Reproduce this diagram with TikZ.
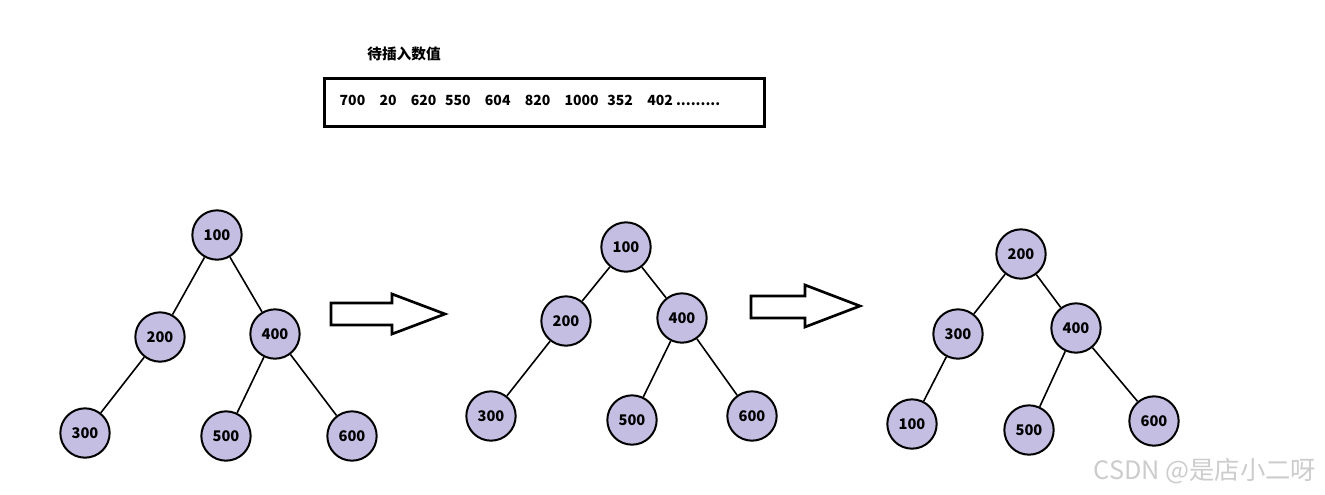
\documentclass[tikz,border=0pt]{standalone}
\usepackage{fontspec}
\setmainfont{Noto Sans CJK SC}
\usepackage{tikz}

\begin{document}
\begin{tikzpicture}
 [x=0.75pt,y=-0.75pt,
  tree node/.style={circle,fill=lavender,draw,line width=1.5pt,minimum size=37pt,inner sep=0pt,font=\fontsize{11pt}{13pt}\selectfont\bfseries},
  link/.style={line width=1.2pt},
  block arrow/.style={draw,line width=2pt,fill=white}]
 \definecolor{lavender}{RGB}{197,190,227}
 \useasboundingbox (0,0) rectangle (1325,494);

 % title and values
 \node[font=\fontsize{11pt}{13pt}\selectfont\bfseries] (title) at (404,54) {待插入数值};
 \node[draw,line width=2.2pt,minimum width=330pt,minimum height=36pt,anchor=north west] (vals) at (323,77) {};
 \node[anchor=west,font=\fontsize{10.5pt}{12pt}\selectfont\bfseries] (valtext) at (335,100)
  {700\hspace{10.7pt}20\hspace{10.7pt}620\hspace{6.5pt}550\hspace{10.7pt}604\hspace{10.7pt}820\hspace{10.7pt}1000\hspace{6.5pt}352\hspace{10.7pt}402 .........};

 % first tree
 \node[tree node] (a1) at (217,235) {100};
 \node[tree node] (a2) at (160,337) {200};
 \node[tree node] (a4) at (275,334) {400};
 \node[tree node] (a3) at (85,433) {300};
 \node[tree node] (a5) at (226,436) {500};
 \node[tree node] (a6) at (352,436) {600};

 \path
  (a1) edge [link] (a2)
  (a1) edge [link] (a4)
  (a2) edge [link] (a3)
  (a4) edge [link] (a5)
  (a4) edge [link] (a6);

 % second tree
 \node[tree node] (b1) at (626,247) {100};
 \node[tree node] (b2) at (566,321) {200};
 \node[tree node] (b4) at (682,318) {400};
 \node[tree node] (b3) at (491,416) {300};
 \node[tree node] (b5) at (632,420) {500};
 \node[tree node] (b6) at (752,416) {600};

 \path
  (b1) edge [link] (b2)
  (b1) edge [link] (b4)
  (b2) edge [link] (b3)
  (b4) edge [link] (b5)
  (b4) edge [link] (b6);

 % third tree
 \node[tree node] (c2) at (1021,254) {200};
 \node[tree node] (c3) at (958,334) {300};
 \node[tree node] (c4) at (1076,328) {400};
 \node[tree node] (c1) at (912,424) {100};
 \node[tree node] (c5) at (1029,430) {500};
 \node[tree node] (c6) at (1154,421) {600};

 \path
  (c2) edge [link] (c3)
  (c2) edge [link] (c4)
  (c3) edge [link] (c1)
  (c4) edge [link] (c5)
  (c4) edge [link] (c6);

 % arrows between trees
 \draw[block arrow] (331,303) -- (392,303) -- (392,294) -- (445,314) -- (392,334) -- (392,325) -- (331,325) -- cycle;
 \draw[block arrow] (751,296) -- (805,296) -- (805,285) -- (860,306) -- (805,327) -- (805,318) -- (751,318) -- cycle;

 % watermark
 \node[text=black!20,font=\fontsize{19pt}{22pt}\selectfont,anchor=east] (mark) at (1321,471) {CSDN @是店小二呀};
\end{tikzpicture}
\end{document}
